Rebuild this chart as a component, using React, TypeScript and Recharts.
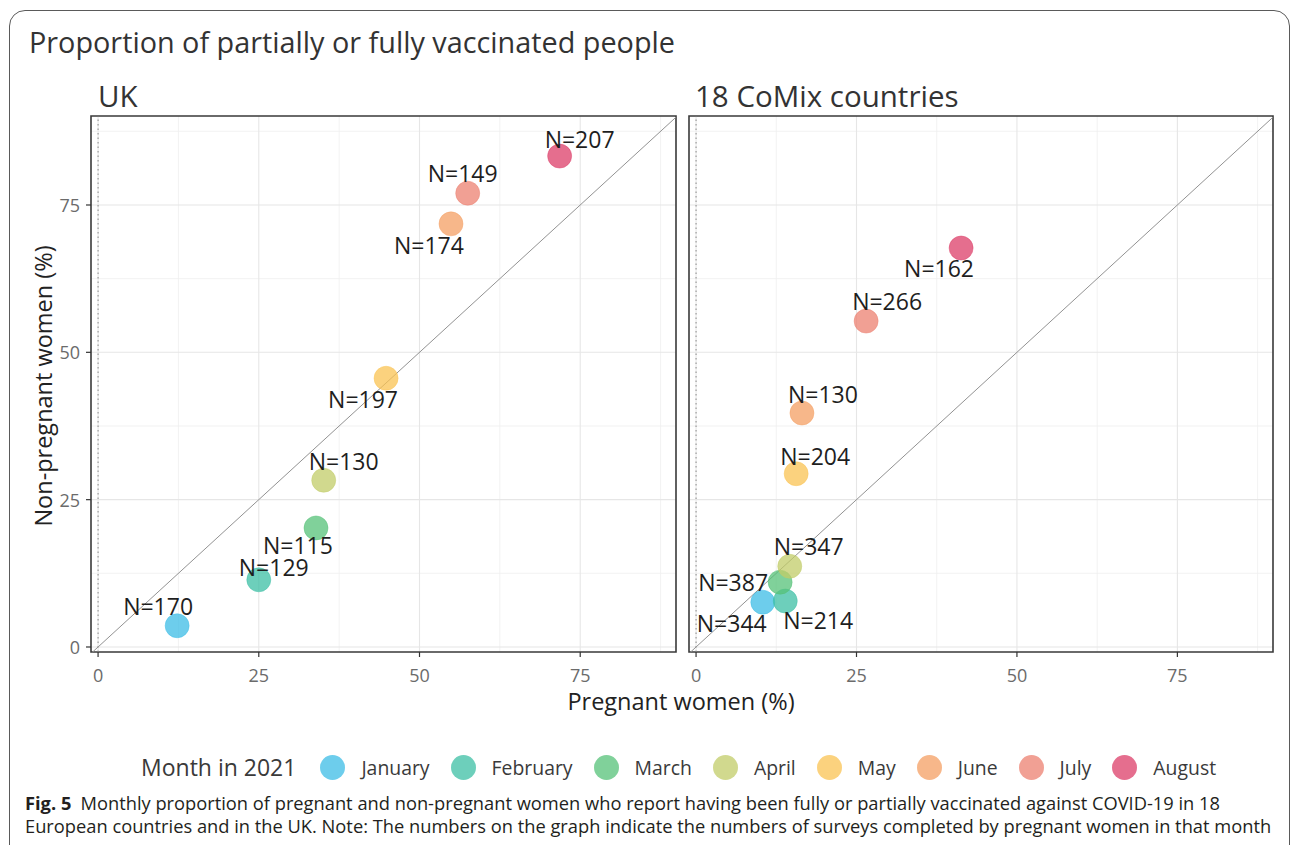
import React from 'react';
import {
  ScatterChart,
  Scatter,
  XAxis,
  YAxis,
  CartesianGrid,
  ReferenceLine,
  ReferenceArea,
} from 'recharts';

// ---------- data ----------
const months = ['January', 'February', 'March', 'April', 'May', 'June', 'July', 'August'];
const monthColors = ['#3cbce6', '#3cbfa4', '#56c278', '#c2cc68', '#fac353', '#f49f63', '#ec8070', '#dc3e68'];

const ukPregnant = [12.3, 25.0, 33.9, 35.1, 44.8, 54.9, 57.5, 71.8];
const ukNonPregnant = [3.6, 11.4, 20.2, 28.3, 45.6, 71.8, 77.0, 83.3];
const ukSurveys = [170, 129, 115, 130, 197, 174, 149, 207];

const euPregnant = [10.4, 13.9, 13.1, 14.6, 15.6, 16.5, 26.5, 41.3];
const euNonPregnant = [7.6, 7.8, 11.0, 13.7, 29.4, 39.7, 55.3, 67.7];
const euSurveys = [344, 214, 387, 347, 204, 130, 266, 162];

const axisTicks = [0, 25, 50, 75];
const minorTicks = [12.5, 37.5, 62.5, 87.5];

// ---------- layout (label nudges in px: [left, baseline]) ----------
const ukLabelNudge: [number, number][] = [
  [-54, -11], [-20, -4], [-53, 26], [-15, -10], [-58, 30], [-57, 30], [-40, -11], [-15, -8],
];
const euLabelNudge: [number, number][] = [
  [-66, 30], [-2, 28], [-82, 9], [-16, -11], [-16, -9], [-14, -10], [-14, -11], [-57, 29],
];

const X_DOMAIN: [number, number] = [-1.1, 89.9];
const Y_DOMAIN: [number, number] = [-0.85, 90.1];
const FONT = "'Open Sans', 'Noto Sans', sans-serif";
const POINT_OPACITY = 0.75;

type Pt = { x: number; y: number; label: string; idx: number };

const buildPoints = (xs: number[], ys: number[], ns: number[]): Pt[] =>
  xs.map((x, i) => ({ x, y: ys[i], label: `N=${ns[i]}`, idx: i }));

const ukData = buildPoints(ukPregnant, ukNonPregnant, ukSurveys);
const euData = buildPoints(euPregnant, euNonPregnant, euSurveys);

const PointShape = (props: any) => {
  const { cx, cy, payload } = props;
  if (cx == null || cy == null) return null;
  const c = monthColors[payload.idx];
  return (
    <circle cx={cx} cy={cy} r={12} fill={c} fillOpacity={POINT_OPACITY} stroke={c} strokeOpacity={0.45} strokeWidth={1} />
  );
};

const makeLabelShape = (nudges: [number, number][]) => (props: any) => {
  const { cx, cy, payload } = props;
  if (cx == null || cy == null) return null;
  const [dx, dy] = nudges[payload.idx];
  return (
    <text x={cx + dx} y={cy + dy} fontSize={23} fontFamily={FONT} fill="#1e1e1e" textAnchor="start">
      {payload.label}
    </text>
  );
};

const XTick = (props: any) => {
  const { x, y, payload } = props;
  return (
    <text x={x} y={y} dy={25} textAnchor="middle" fontSize={18} fontFamily={FONT} fill="#6b6b6b">
      {payload.value}
    </text>
  );
};

const YTick = (props: any) => {
  const { x, y, payload } = props;
  return (
    <text x={x} y={y} dy={7} textAnchor="end" fontSize={18} fontFamily={FONT} fill="#6b6b6b">
      {payload.value}
    </text>
  );
};

const Panel = ({ data, nudges, showY, width, margin }: any) => (
  <ScatterChart width={width} height={720} margin={margin}>
    <CartesianGrid
      horizontalValues={minorTicks}
      verticalValues={minorTicks}
      stroke="#efefef"
      strokeWidth={0.8}
      strokeDasharray=""
    />
    <CartesianGrid
      horizontalValues={axisTicks}
      verticalValues={axisTicks}
      stroke="#e6e6e6"
      strokeWidth={1.1}
      strokeDasharray=""
    />
    <XAxis
      type="number"
      dataKey="x"
      domain={X_DOMAIN}
      allowDataOverflow
      ticks={axisTicks}
      axisLine={false}
      tickLine={{ stroke: '#333', strokeWidth: 1.2 }}
      tickSize={5}
      tickMargin={0}
      height={30}
      tick={<XTick />}
    />
    <YAxis
      type="number"
      dataKey="y"
      domain={Y_DOMAIN}
      allowDataOverflow
      ticks={axisTicks}
      axisLine={false}
      tickLine={{ stroke: '#333', strokeWidth: 1.2 }}
      tickSize={5}
      tickMargin={6}
      width={50}
      hide={!showY}
      tick={<YTick />}
    />
    <ReferenceLine x={0} stroke="#8a8a8a" strokeWidth={1} strokeDasharray="1.5 3" />
    <ReferenceLine
      segment={[{ x: -0.85, y: -0.85 }, { x: 89.9, y: 89.9 }]}
      stroke="#929292"
      strokeWidth={1}
      ifOverflow="visible"
    />
    <Scatter data={data} shape={<PointShape />} isAnimationActive={false} />
    <Scatter data={data} shape={makeLabelShape(nudges)} isAnimationActive={false} />
    <ReferenceArea
      x1={X_DOMAIN[0]}
      x2={X_DOMAIN[1]}
      y1={Y_DOMAIN[0]}
      y2={Y_DOMAIN[1]}
      fill="none"
      fillOpacity={0}
      stroke="#3a3a3a"
      strokeWidth={1.6}
      ifOverflow="visible"
    />
  </ScatterChart>
);

export default function App() {
  return (
    <div
      style={{
        position: 'absolute',
        left: 0,
        top: 0,
        width: 1292,
        height: 845,
        overflow: 'hidden',
        background: '#fff',
        fontFamily: FONT,
      }}
    >
      {/* frame */}
      <div
        style={{
          position: 'absolute',
          left: 9,
          top: 10,
          width: 1281,
          height: 900,
          border: '1.5px solid #5a5a5a',
          borderRadius: 16,
          boxSizing: 'border-box',
        }}
      />
      {/* title */}
      <div style={{ position: 'absolute', left: 29, top: 22, fontSize: 28.8, color: '#333', whiteSpace: 'nowrap', lineHeight: '40px' }}>
        Proportion of partially or fully vaccinated people
      </div>
      <div style={{ position: 'absolute', left: 98, top: 76, fontSize: 29.5, color: '#333', whiteSpace: 'nowrap', lineHeight: '40px' }}>
        UK
      </div>
      <div style={{ position: 'absolute', left: 695, top: 76, fontSize: 29.5, color: '#333', whiteSpace: 'nowrap', lineHeight: '40px' }}>
        18 CoMix countries
      </div>

      <div style={{ position: 'absolute', left: 0, top: 0 }}>
        <Panel data={ukData} nudges={ukLabelNudge} showY width={680} margin={{ top: 116, right: 4, bottom: 38, left: 41 }} />
      </div>
      <div style={{ position: 'absolute', left: 680, top: 0 }}>
        <Panel data={euData} nudges={euLabelNudge} showY={false} width={612} margin={{ top: 116, right: 19, bottom: 38, left: 9 }} />
      </div>

      {/* axis titles */}
      <div
        style={{
          position: 'absolute',
          left: 681,
          top: 701,
          transform: 'translate(-50%, -50%)',
          fontSize: 23.5,
          color: '#222',
          whiteSpace: 'nowrap',
          lineHeight: '30px',
        }}
      >
        Pregnant women (%)
      </div>
      <div
        style={{
          position: 'absolute',
          left: 43,
          top: 386,
          transform: 'translate(-50%, -50%) rotate(-90deg)',
          fontSize: 23.5,
          color: '#222',
          whiteSpace: 'nowrap',
          lineHeight: '30px',
        }}
      >
        Non-pregnant women (%)
      </div>

      {/* legend */}
      <div
        style={{
          position: 'absolute',
          left: 141,
          top: 767,
          transform: 'translateY(-50%)',
          display: 'flex',
          alignItems: 'center',
          whiteSpace: 'nowrap',
        }}
      >
        <span style={{ fontSize: 23, color: '#3a3a3a', marginRight: 24 }}>Month in 2021</span>
        {months.map((m, i) => (
          <span key={m} style={{ display: 'flex', alignItems: 'center', marginRight: i < months.length - 1 ? 21 : 0 }}>
            <span
              style={{
                width: 25,
                height: 25,
                borderRadius: '50%',
                background: monthColors[i],
                opacity: POINT_OPACITY,
                display: 'inline-block',
                marginRight: 16,
              }}
            />
            <span style={{ fontSize: 19.4, color: '#3a3a3a' }}>{m}</span>
          </span>
        ))}
      </div>

      {/* caption */}
      <div style={{ position: 'absolute', left: 25, top: 791, fontSize: 18.3, color: '#231f20', whiteSpace: 'nowrap', lineHeight: '23px' }}>
        <div>
          <b>Fig. 5</b>
          {'\u2002'}Monthly proportion of pregnant and non-pregnant women who report having been fully or partially vaccinated against COVID-19 in 18
        </div>
        <div>European countries and in the UK. Note: The numbers on the graph indicate the numbers of surveys completed by pregnant women in that month</div>
      </div>
    </div>
  );
}
